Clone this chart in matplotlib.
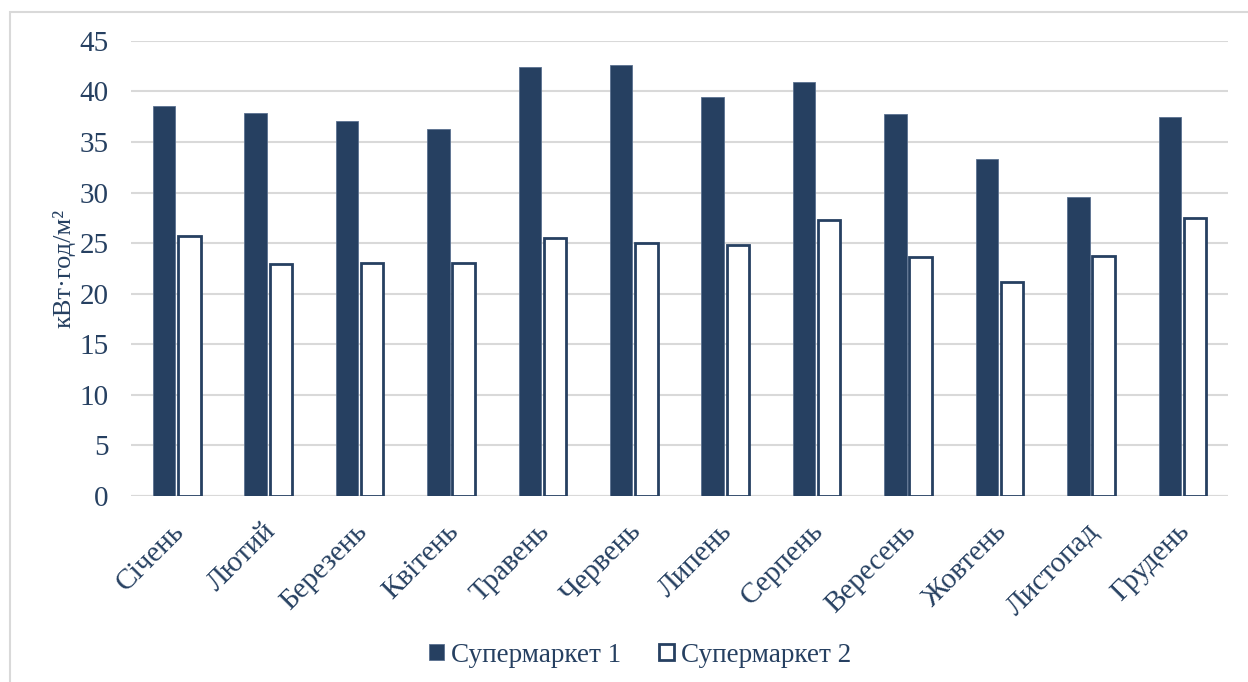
import numpy as np
import matplotlib.pyplot as plt
import matplotlib.transforms as mtransforms
from matplotlib.patches import Rectangle

months = ['Січень', 'Лютий', 'Березень', 'Квітень', 'Травень', 'Червень',
          'Липень', 'Серпень', 'Вересень', 'Жовтень', 'Листопад', 'Грудень']
market1 = [38.6, 37.9, 37.1, 36.3, 42.4, 42.6, 39.5, 40.9, 37.8, 33.3, 29.6, 37.5]
market2 = [25.7, 22.9, 23.0, 23.0, 25.5, 25.0, 24.8, 27.3, 23.6, 21.2, 23.7, 27.5]
labels = ['Супермаркет 1', 'Супермаркет 2']

navy = '#264061'
plt.rcParams['font.family'] = ['Liberation Serif', 'DejaVu Serif']

fig = plt.figure(figsize=(12.48, 6.82), dpi=100)
ax = fig.add_axes([0.105, 0.2727, 0.879, 0.6673])

# outer chart frame (only left and top edges visible)
fig.patches.append(Rectangle((10 / 1248, -0.1), 1.2, 1 - 12 / 682 + 0.1,
                             transform=fig.transFigure, fill=False,
                             edgecolor='#d9d9d9', linewidth=1.5))

x = np.arange(len(months))
w = 0.245
gap = 0.03
ax.bar(x - (w + gap) / 2, market1, w, color=navy, edgecolor='#5b7190',
       linewidth=0.6, label=labels[0], zorder=3)
ax.bar(x + (w + gap) / 2, market2, w, color='white', edgecolor=navy,
       linewidth=2, label=labels[1], zorder=3)

ax.set_xlim(-0.5, len(months) - 0.5)
ax.set_ylim(0, 45)
ax.set_yticks(range(0, 46, 5))
ax.yaxis.grid(True, color='#d9d9d9', linewidth=1.5, zorder=0)
for s in ax.spines.values():
    s.set_visible(False)
ax.axhline(0, color='#d9d9d9', linewidth=1.5, zorder=2)
ax.tick_params(length=0, labelsize=21, colors=navy)
ax.tick_params(axis='y', pad=16)
ax.tick_params(axis='x', pad=16)
ax.set_xticks(x)
ax.set_xticklabels(months, rotation=45, ha='right', rotation_mode='anchor')
shift = mtransforms.ScaledTranslation(-6 / 100, 0, fig.dpi_scale_trans)
for t in ax.get_xticklabels():
    t.set_transform(t.get_transform() + shift)
ax.set_ylabel('кВт·год/м²', fontsize=19, color=navy, labelpad=3)

fig.legend(handles=ax.patches[:1] + ax.patches[12:13], labels=labels,
           loc='center', bbox_to_anchor=(0.513, 1 - 655 / 682), ncol=2,
           frameon=False, fontsize=19.5, labelcolor=navy, handlelength=0.55,
           handleheight=0.55, handletextpad=0.25, columnspacing=1.4)

fig.savefig('out.png', dpi=100)
